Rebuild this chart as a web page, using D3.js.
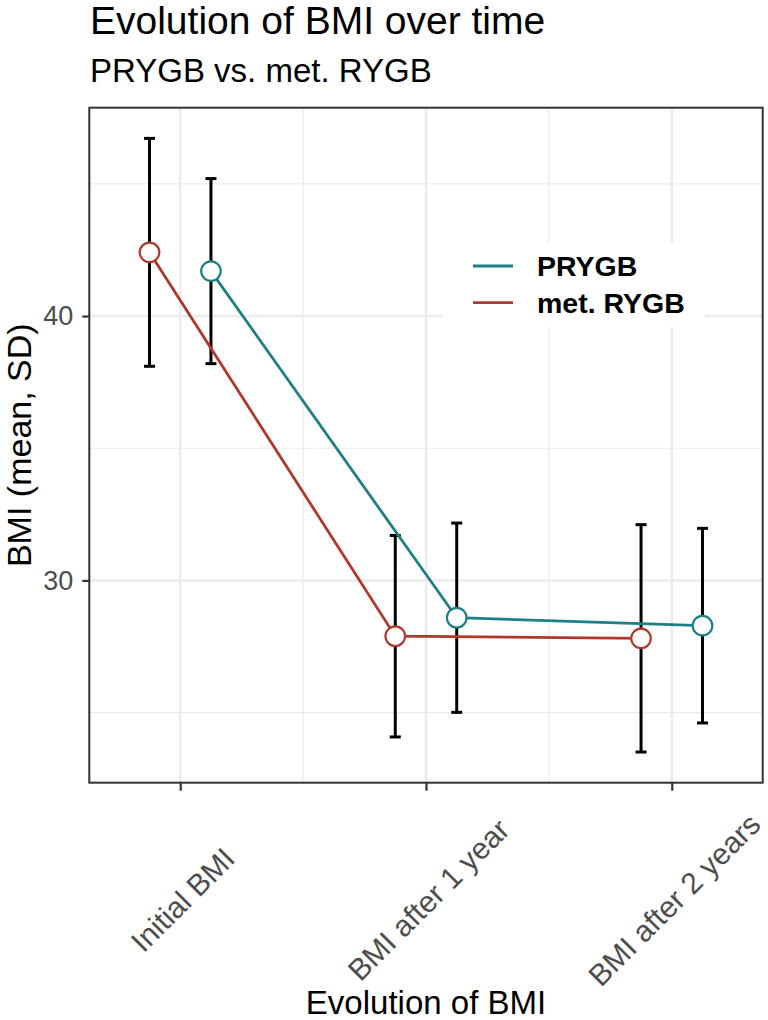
<!DOCTYPE html>
<html>
<head>
<meta charset="utf-8">
<script src="https://cdn.jsdelivr.net/npm/d3@7"></script>
<style>
  html, body { margin: 0; padding: 0; background: #ffffff; }
  svg { display: block; font-family: "Liberation Sans", Arial, Helvetica, sans-serif; }
</style>
</head>
<body>
<div id="chart"></div>
<script>
// ---- data ----
const categories = ["Initial BMI", "BMI after 1 year", "BMI after 2 years"];
const seriesNames = ["PRYGB", "met. RYGB"];
const prygbMean = [41.70, 28.59, 28.29];
const prygbSD   = [3.50, 3.58, 3.68];
const metMean   = [42.41, 27.89, 27.81];
const metSD     = [4.31, 3.81, 4.30];
const yMajorTicks = [30, 40];
const yMinorTicks = [25, 35, 45];

// ---- layout ----
const W = 768, H = 1020;
const margin = { top: 107.7, right: 5.3, bottom: 237.3, left: 89.3 };
const pw = W - margin.left - margin.right;
const ph = H - margin.top - margin.bottom;
const colors = { "PRYGB": "#1f7f86", "met. RYGB": "#b1382c" };
const dodge = { "PRYGB": 0.125, "met. RYGB": -0.125 };

const series = [
  { name: "PRYGB", mean: prygbMean, sd: prygbSD },
  { name: "met. RYGB", mean: metMean, sd: metSD }
];
series.forEach(s => {
  s.points = categories.map((c, i) => ({
    cat: c, idx: i + 1, mean: s.mean[i], lo: s.mean[i] - s.sd[i], hi: s.mean[i] + s.sd[i], name: s.name
  }));
});
const allPts = series.flatMap(s => s.points);
const yLo = d3.min(allPts, d => d.lo), yHi = d3.max(allPts, d => d.hi);
const yPad = (yHi - yLo) * 0.05;

const x = d3.scaleLinear().domain([0.63, 3.37]).range([0, pw]);
const y = d3.scaleLinear().domain([yLo - yPad, yHi + yPad]).range([ph, 0]);

const svg = d3.select("#chart").append("svg").attr("width", W).attr("height", H);

// titles
svg.append("text").attr("x", 90).attr("y", 34.3)
  .attr("font-size", 39).attr("fill", "#000").text("Evolution of BMI over time");
svg.append("text").attr("x", 90).attr("y", 82.3)
  .attr("font-size", 33).attr("fill", "#000").text("PRYGB vs. met. RYGB");

const g = svg.append("g").attr("transform", `translate(${margin.left},${margin.top})`);

// panel background
g.append("rect").attr("width", pw).attr("height", ph).attr("fill", "#fff");

// grid: minor
const xMinor = [1.5, 2.5];
g.append("g").selectAll("line").data(yMinorTicks).join("line")
  .attr("x1", 0).attr("x2", pw).attr("y1", d => y(d)).attr("y2", d => y(d))
  .attr("stroke", "#ebebeb").attr("stroke-width", 1.2);
g.append("g").selectAll("line").data(xMinor).join("line")
  .attr("y1", 0).attr("y2", ph).attr("x1", d => x(d)).attr("x2", d => x(d))
  .attr("stroke", "#ebebeb").attr("stroke-width", 1.2);
// grid: major
g.append("g").selectAll("line").data(yMajorTicks).join("line")
  .attr("x1", 0).attr("x2", pw).attr("y1", d => y(d)).attr("y2", d => y(d))
  .attr("stroke", "#ebebeb").attr("stroke-width", 2.4);
g.append("g").selectAll("line").data(categories).join("line")
  .attr("y1", 0).attr("y2", ph).attr("x1", (d, i) => x(i + 1)).attr("x2", (d, i) => x(i + 1))
  .attr("stroke", "#ebebeb").attr("stroke-width", 2.4);

// error bars
const capHalf = 5.5;
const eb = g.append("g");
allPts.forEach(p => {
  const cx = x(p.idx + dodge[p.name]);
  eb.append("line").attr("x1", cx).attr("x2", cx).attr("y1", y(p.lo)).attr("y2", y(p.hi))
    .attr("stroke", "#000").attr("stroke-width", 3);
  [p.lo, p.hi].forEach(v => {
    eb.append("line").attr("x1", cx - capHalf).attr("x2", cx + capHalf).attr("y1", y(v)).attr("y2", y(v))
      .attr("stroke", "#000").attr("stroke-width", 3);
  });
});

// lines
const line = d3.line().x(d => x(d.idx + dodge[d.name])).y(d => y(d.mean));
series.forEach(s => {
  g.append("path").datum(s.points).attr("d", line).attr("fill", "none")
    .attr("stroke", colors[s.name]).attr("stroke-width", 2.8);
});

// points
series.forEach(s => {
  g.append("g").selectAll("circle").data(s.points).join("circle")
    .attr("cx", d => x(d.idx + dodge[d.name])).attr("cy", d => y(d.mean)).attr("r", 9.8)
    .attr("fill", "#fff").attr("stroke", colors[s.name]).attr("stroke-width", 2.2);
});

// panel border
g.append("rect").attr("width", pw).attr("height", ph).attr("fill", "none")
  .attr("stroke", "#333333").attr("stroke-width", 2);

// y axis
const yAxis = g.append("g").call(d3.axisLeft(y).tickValues(yMajorTicks).tickSize(7).tickPadding(9));
yAxis.select(".domain").remove();
yAxis.selectAll(".tick line").attr("stroke", "#333333").attr("stroke-width", 2.2);
yAxis.selectAll(".tick text").attr("font-size", 27).attr("fill", "#4d4d4d")
  .attr("font-family", "Liberation Sans, Arial, sans-serif");

// x axis
const xAxis = g.append("g").attr("transform", `translate(0,${ph})`)
  .call(d3.axisBottom(x).tickValues([1, 2, 3]).tickFormat(d => categories[d - 1]).tickSize(8));
xAxis.select(".domain").remove();
xAxis.selectAll(".tick line").attr("stroke", "#333333").attr("stroke-width", 2.2);
xAxis.selectAll(".tick text")
  .attr("font-size", 30).attr("fill", "#4d4d4d")
  .attr("font-family", "Liberation Sans, Arial, sans-serif")
  .attr("text-anchor", "middle").attr("dy", null).attr("y", 0)
  .attr("dominant-baseline", "central")
  .attr("transform", "translate(2,117) rotate(-45)");

// axis titles
svg.append("text").attr("x", margin.left + pw / 2).attr("y", 1014)
  .attr("text-anchor", "middle").attr("font-size", 33).attr("fill", "#000").text("Evolution of BMI");
svg.append("text").attr("transform", `translate(31,${margin.top + ph / 2}) rotate(-90)`)
  .attr("text-anchor", "middle").attr("font-size", 34).attr("fill", "#000").text("BMI (mean, SD)");

// legend
const lg = svg.append("g");
lg.append("rect").attr("x", 443).attr("y", 243).attr("width", 262).attr("height", 84).attr("fill", "#fff");
const legY = [266, 302.7];
seriesNames.forEach((n, i) => {
  lg.append("line").attr("x1", 473).attr("x2", 513).attr("y1", legY[i]).attr("y2", legY[i])
    .attr("stroke", colors[n]).attr("stroke-width", 2.8);
  lg.append("text").attr("x", 537).attr("y", legY[i]).attr("dominant-baseline", "central")
    .attr("font-size", 28.5).attr("font-weight", "bold").attr("fill", "#000").text(n);
});
</script>
</body>
</html>
